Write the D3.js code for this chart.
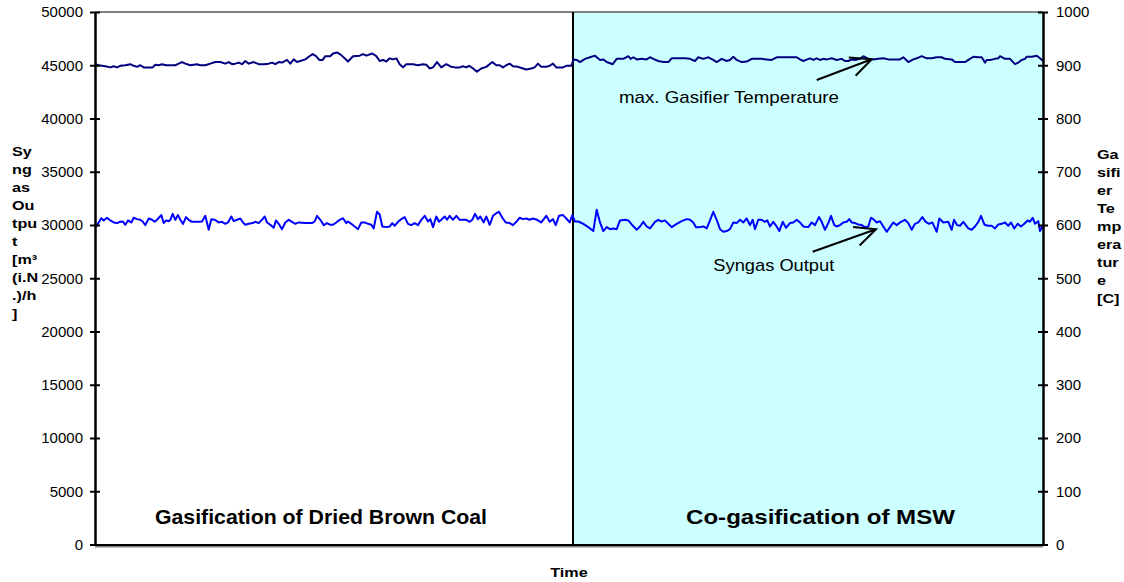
<!DOCTYPE html>
<html><head><meta charset="utf-8">
<script src="https://cdn.jsdelivr.net/npm/d3@7"></script>
<style>
body{margin:0;background:#fff}
svg{display:block}
text{font-family:"Liberation Sans",Arial,Helvetica,sans-serif;fill:#000}
</style>
</head><body>
<svg id="chart" width="1124" height="582"></svg>
<script>
// ---------------- DATA ----------------
// time in minutes (x has no tick labels, only "Time")
const tempTime = [0,3.7,10.3,15.3,18.7,22,25.3,30.3,35.3,38.7,42,45.3,48.7,53.7,57.7,60.3,63.7,67,71,75.3,80.3,83.7,87,90.3,95.3,98.7,102,105.3,110.3,115.3,120.3,125.3,130.3,133.7,137,140.3,143.7,147,150.3,153.7,158.7,163.7,168.7,173.7,177,180.3,183.7,187,192,195.3,198.7,202,205.3,210.3,213.7,217.7,221,224.3,227.7,230.3,235.3,
238,242,246.3,253,258,264.7,268,271.3,277.3,281.3,284.7,288,291.3,294.7,298,301.3,304.7,308,311.3,318,323,328,331.3,334.7,338,342,346.3,351.3,356.3,359.7,364.7,368,371.3,374,378,382,386.3,391.3,397.3,401.3,404.7,408,411.3,414.7,418,423,428,431.3,436.3,439.7,443,446.3,451.3,454.7,458,461.3,468,471.3,476.3,478.7,
481.7,485,490,495,500,505,508.3,511.7,517.7,521.7,528.3,533.3,535.7,538.3,541.7,546.7,551.7,555,558.3,563.3,568.3,573.3,576.7,585,590,595,600,603.3,608.3,613.3,618.3,621.7,626.7,631.7,635,638.3,641.7,646.7,651.7,656.7,661.7,666.7,671.7,676.7,681.7,688.3,695,701.7,705,708.3,712.3,
715,718.3,721.7,725,728.3,731.7,736.7,741.7,746.7,750,753.3,756.7,760,765,768.3,773.3,778.3,783.3,788.3,793.3,800,805,808.3,813.3,818.3,821.7,826.7,831.7,836.7,841.7,846.7,850,856.7,860,866.7,870,875,878.3,883.3,886.7,890,891.7,895,900,903.3,905,910,915,920,923.3,926.7,930,931.7,936.7,941.7,945,948];
// max. gasifier temperature [C] (right axis)
const tempValue = [902,900,898,896,898,896,899,900,902,899,897,900,896,896,896,901,900,902,900,900,900,903,906,903,900,901,902,900,900,903,906,906,903,906,902,903,905,902,908,903,906,902,902,903,905,902,906,905,910,903,911,906,908,911,916,921,917,910,910,917,917,
922,924,919,907,917,918,921,918,922,917,908,910,907,913,911,913,902,896,902,902,900,902,901,894,896,906,896,902,897,896,896,898,896,899,894,888,894,897,906,900,900,896,900,903,898,897,894,892,894,896,903,897,897,899,903,896,896,899,899,911,
910,906,912,915,918,910,911,906,902,912,912,917,912,915,911,912,911,915,912,908,906,906,913,913,913,912,908,915,912,915,910,906,912,908,910,916,910,906,907,912,912,912,911,910,915,915,915,915,911,908,911,
913,910,913,910,912,911,913,910,912,908,908,911,910,912,917,912,911,912,913,911,911,911,915,906,911,913,917,913,913,915,915,912,911,906,906,906,912,916,915,915,905,910,910,912,913,917,912,912,902,905,910,912,916,916,918,913,908];

const syngasTime = [0,1,3.7,6.3,8.7,12,15.3,18.7,22,25.3,27.7,30.3,33,36.3,38.7,42,45.3,47.7,50.3,53.7,57,59.7,62,66.3,68.7,71,73.7,75.3,77.7,80.3,83,85.3,88,91,93.7,97,100.3,103.7,107,110.3,113.7,116.3,119.7,123.7,127,130.3,133,136.3,138.7,142,145.3,148,150.3,153.7,157.7,160.3,163.7,167,169.7,172,175.3,178.7,181,183.7,187,190.3,193.7,197,200.3,203.7,210.3,217,219.7,222,225.3,228.7,232,235.3,
238,241.3,244.7,248,251.3,253,256.3,259.7,263,266.3,269.7,273,276.3,278.7,282,284.7,287.3,291.3,294.7,297.3,299.7,303,306.3,309.7,313,316.3,319.7,323,326.3,329.7,333,335.3,338,341.3,344,346.3,349.7,352,354.7,358,361.3,364.7,368,371.3,374.7,377.3,380,383,385.3,388.7,391.3,394.7,398,401.3,404,407.3,410.7,414.7,418,421.3,424.7,428,431.3,434.7,438,442,446.3,451.3,454.7,458,460.7,464,468,471.3,474.7,477.3,
480,483.3,488.3,493.3,498.3,501.7,505,508.3,511.7,515,518.3,521.7,525,530,533.3,536.7,541.7,545,548.3,551.7,555,560,563.3,566.7,570,573.3,576.7,581.7,586.7,591.7,595,598.3,601,604.3,608.3,611.7,615,618.3,621.7,625,628.3,631.7,635,638.3,641.7,645,648.3,651.7,655,657.7,660,663.3,666.7,670,672.3,675,678.3,681.7,684.3,687.7,691,695,698.3,701.7,705,708.3,
713.3,716.7,720,724,726.7,730,733.3,736,739.3,741.7,745,748.3,751.7,754.3,756.7,760,763.3,766.7,770,773.3,776,778.3,781.7,785,788.3,791.7,795,798.3,801.7,805,810,813.3,816.7,820,823.3,827.3,830.7,834,837.3,841.7,844.3,848.3,853.3,856.7,859,862,865,868.3,873.3,876.7,880,883.3,886,889.3,892.7,896.7,900,903.3,906.7,910,913.3,916,919.3,922.7,926,929.3,932.7,935,937.7,940,943.3,945,948];
// syngas output [m3 (i.N.)/h] (left axis)
const syngasValue = [29800,29860,30240,30640,30430,30680,30430,30240,30180,30300,30330,30020,30430,30240,30680,30550,30490,30330,29990,30610,30490,30300,30490,30930,30180,30430,30360,30490,31050,30490,30930,30490,30110,30740,30490,30300,30300,30300,30330,30860,29550,30550,30490,30240,30300,30110,30240,30800,30360,30490,30610,30240,30020,30110,30180,30300,30180,30490,30800,30240,30020,29740,30430,30110,29610,30240,30490,30300,30110,30240,30180,30180,30330,30860,30490,29990,30180,30020,
30020,30240,30490,30640,30180,30330,30110,29860,29610,30240,30240,30110,30020,29680,31240,30990,29860,29800,29860,30180,29930,30300,30550,30740,30110,29990,30180,29990,30490,30860,30330,30550,29800,30800,30300,30490,30800,30490,30860,30490,30860,30490,30490,30490,30300,30490,31050,30550,30800,30240,30800,30020,30860,31110,31240,30680,30240,30180,29990,30300,30680,30550,30610,30490,30610,30490,30240,30860,30300,30550,29990,30860,30930,30610,30240,30930,
30330,30330,30110,29800,29430,31430,30240,29430,29800,29610,29680,29610,30430,30490,30430,30050,29550,29860,30300,29860,29680,30300,30490,30330,30430,30110,29800,30110,30360,30550,30490,30240,29800,29800,29860,29680,30430,31240,30490,29610,29360,29430,29610,30240,30180,30490,30240,30610,29990,30490,29610,30490,30490,30300,30430,29860,30300,29860,29430,30300,29740,30180,30240,30490,30240,29860,
29800,30240,29990,30740,30300,29550,30180,30860,29990,29860,29990,30240,30300,30550,30240,30180,30050,29990,29800,29860,30680,30550,30240,30360,29860,29360,29800,30240,29990,30240,30490,30180,29550,30110,30240,30740,30300,30110,30240,29360,30610,30240,30300,29550,30490,29990,29930,30300,29680,29550,29860,30300,30860,30050,29930,29930,29680,30050,30110,30240,29930,30240,29680,30110,29860,30110,30430,30300,30680,30110,30360,29430,29990];

const leftTicks  = [0,5000,10000,15000,20000,25000,30000,35000,40000,45000,50000];
const rightTicks = [0,100,200,300,400,500,600,700,800,900,1000];
const timeDomain = [0,948];

const phaseNames     = ["Gasification of Dried Brown Coal","Co-gasification of MSW"];
const phaseStart     = [0,478];
const phaseEnd       = [478,948];
const phaseLabelTime = [226,725.5];

const leftTitleLines  = ["Sy","ng","as","Ou","tpu","t","[m³","(i.N",".)/h","]"];
const rightTitleLines = ["Ga","sifi","er","Te","mp","era","tur","e","[C]"];
const xTitle = "Time";

// annotations in data coordinates: [time, value]
const annoText  = ["max. Gasifier Temperature","Syngas Output"];
const annoAxis  = ["right","left"];
const annoLabel = [[524,838.5],[618.3,26178]];
const annoTail  = [[721.7,872.3],[717.7,27493]];
const annoTip   = [[776.7,911.2],[781,29596]];

// ---------------- LAYOUT / STYLE ----------------
const P = {left:95, right:1043, top:12, bottom:544.5};
const phaseFill = ["#ffffff","#ccffff"];
const phaseLabelWidth = [332,269];
const annoWidth = [220,121];
const tempColor = "#000080", syngasColor = "#0000ff";
const hStretch = 1.2;

const svg = d3.select("#chart");
const x  = d3.scaleLinear().domain(timeDomain).range([P.left,P.right]);
const yL = d3.scaleLinear().domain([0,50000]).range([P.bottom,P.top]);
const yR = d3.scaleLinear().domain([0,1000]).range([P.bottom,P.top]);

// phase backgrounds
svg.append("g").selectAll("rect").data(phaseNames).join("rect")
  .attr("x",(d,i)=>x(phaseStart[i])).attr("width",(d,i)=>x(phaseEnd[i])-x(phaseStart[i]))
  .attr("y",P.top).attr("height",P.bottom-P.top)
  .attr("fill",(d,i)=>phaseFill[i]);

// plot border (grey)
svg.append("line").attr("x1",P.left).attr("x2",P.right).attr("y1",P.top).attr("y2",P.top)
  .attr("stroke","#808080").attr("stroke-width",2);
svg.append("line").attr("x1",P.left).attr("x2",P.right).attr("y1",P.bottom+2).attr("y2",P.bottom+2)
  .attr("stroke","#808080").attr("stroke-width",2);

// phase divider
svg.append("g").selectAll("line").data(phaseStart.slice(1)).join("line")
  .attr("x1",d=>x(d)).attr("x2",d=>x(d)).attr("y1",P.top).attr("y2",P.bottom)
  .attr("stroke","#000").attr("stroke-width",2);

// lines
const tempLine = d3.line().x((d,i)=>x(tempTime[i])).y(d=>yR(d));
const synLine  = d3.line().x((d,i)=>x(syngasTime[i])).y(d=>yL(d));
svg.append("path").datum(tempValue).attr("d",tempLine).attr("fill","none")
  .attr("stroke",tempColor).attr("stroke-width",2).attr("stroke-linejoin","round");
svg.append("path").datum(syngasValue).attr("d",synLine).attr("fill","none")
  .attr("stroke",syngasColor).attr("stroke-width",2).attr("stroke-linejoin","round");

// axes
function styleAxis(g){
  g.select(".domain").attr("stroke","#000").attr("stroke-width",2);
  g.selectAll(".tick line").attr("stroke","#000").attr("stroke-width",2);
  g.selectAll(".tick text").attr("font-size","15px").attr("fill","#000")
    .attr("font-family",'"Liberation Sans",Arial,sans-serif');
}
const gL = svg.append("g").attr("transform",`translate(${P.left},0)`)
  .call(d3.axisLeft(yL).tickValues(leftTicks).tickSizeInner(5).tickSizeOuter(0).tickPadding(7).tickFormat(d3.format("d")));
styleAxis(gL);
const gL2 = svg.append("g").attr("transform",`translate(${P.left},0)`)
  .call(d3.axisLeft(yL).tickValues(leftTicks).tickSizeInner(-5).tickSizeOuter(0).tickFormat(""));
styleAxis(gL2);
const gR = svg.append("g").attr("transform",`translate(${P.right},0)`)
  .call(d3.axisRight(yR).tickValues(rightTicks).tickSizeInner(5).tickSizeOuter(0).tickPadding(8).tickFormat(d3.format("d")));
styleAxis(gR);
const gR2 = svg.append("g").attr("transform",`translate(${P.right},0)`)
  .call(d3.axisRight(yR).tickValues(rightTicks).tickSizeInner(-5).tickSizeOuter(0).tickFormat(""));
styleAxis(gR2);
const gX = svg.append("g").attr("transform",`translate(0,${P.bottom})`)
  .call(d3.axisBottom(x).tickValues([]).tickSizeOuter(0));
styleAxis(gX);

// axis titles (slightly widened like the original)
svg.append("g").attr("transform",`translate(12,0) scale(${hStretch},1)`)
  .selectAll("text").data(leftTitleLines).join("text")
  .attr("x",0).attr("y",(d,i)=>151.5+i*18).attr("dominant-baseline","central")
  .attr("font-size","13.5px").attr("font-weight","bold").text(d=>d);
svg.append("g").attr("transform",`translate(1097,0) scale(${hStretch},1)`)
  .selectAll("text").data(rightTitleLines).join("text")
  .attr("x",0).attr("y",(d,i)=>154.5+i*18).attr("dominant-baseline","central")
  .attr("font-size","13.5px").attr("font-weight","bold").text(d=>d);
svg.append("g").attr("transform",`translate(569,577) scale(${hStretch},1)`)
  .append("text").attr("x",0).attr("y",0).attr("text-anchor","middle")
  .attr("font-size","13.5px").attr("font-weight","bold").text(xTitle);

// phase labels
svg.append("g").selectAll("text").data(phaseNames).join("text")
  .attr("x",(d,i)=>x(phaseLabelTime[i]) - phaseLabelWidth[i]/2).attr("y",yL(1925))
  .attr("textLength",(d,i)=>phaseLabelWidth[i]).attr("lengthAdjust","spacingAndGlyphs")
  .attr("font-size","20.5px").attr("font-weight","bold").text(d=>d);

// annotations
annoText.forEach((t,i)=>{
  const ys = annoAxis[i]==="right"? yR : yL;
  svg.append("text").attr("x",x(annoLabel[i][0])).attr("y",ys(annoLabel[i][1]))
    .attr("dominant-baseline","central").attr("font-size","17px")
    .attr("textLength",annoWidth[i]).attr("lengthAdjust","spacingAndGlyphs").text(t);
  const x1=x(annoTail[i][0]), y1=ys(annoTail[i][1]);
  const x2=x(annoTip[i][0]),  y2=ys(annoTip[i][1]);
  const ang=Math.atan2(y1-y2,x1-x2), L=23, a=25*Math.PI/180;
  const p=d3.path();
  p.moveTo(x1,y1); p.lineTo(x2,y2);
  p.moveTo(x2+L*Math.cos(ang+a),y2+L*Math.sin(ang+a)); p.lineTo(x2,y2);
  p.lineTo(x2+L*Math.cos(ang-a),y2+L*Math.sin(ang-a));
  svg.append("path").attr("d",p.toString()).attr("fill","none").attr("stroke","#000").attr("stroke-width",2);
});
</script>
</body></html>
